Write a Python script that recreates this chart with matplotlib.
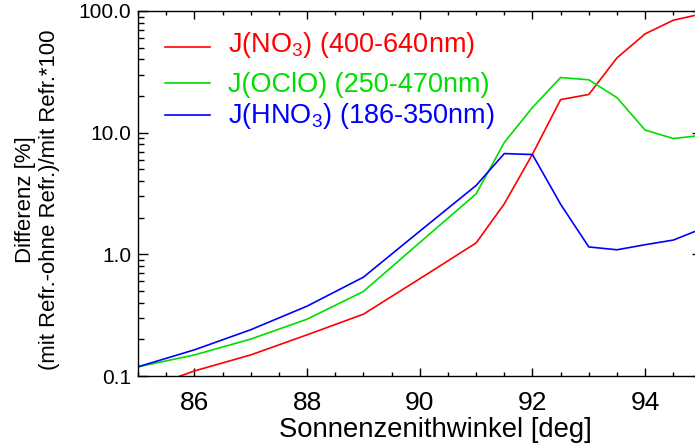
import matplotlib
matplotlib.use("Agg")
import matplotlib.pyplot as plt
from matplotlib.ticker import FixedLocator, MultipleLocator, LogLocator, FixedFormatter, NullFormatter

plt.rcParams["font.family"] = ["Liberation Sans", "DejaVu Sans"]
plt.rcParams["mathtext.default"] = "regular"

# Solar zenith angle [deg]
sza = [85, 86, 87, 88, 89, 90, 91, 91.5, 92, 92.5, 93, 93.5, 94, 94.5, 95]

# Relative difference of photolysis rates with/without refraction [%]
j_no3 = [0.075, 0.110, 0.149, 0.218, 0.322, 0.63, 1.24, 2.60, 6.65,
         18.7, 20.6, 41.2, 64.9, 84.0, 94.6]
j_oclo = [0.119, 0.149, 0.201, 0.293, 0.495, 1.25, 3.14, 8.3, 16.1,
          28.4, 27.2, 19.4, 10.5, 8.95, 9.5]
j_hno3 = [0.119, 0.164, 0.240, 0.375, 0.649, 1.55, 3.68, 6.73, 6.61,
          2.58, 1.15, 1.09, 1.20, 1.31, 1.62]

labels = ["J(NO$_3$) (400-640nm)", "J(OClO) (250-470nm)", "J(HNO$_3$) (186-350nm)"]
colors = ["#FF0000", "#00DD00", "#0000FF"]
series = [j_no3, j_oclo, j_hno3]

x_ticks = [86, 88, 90, 92, 94]
y_ticks = [0.1, 1.0, 10.0, 100.0]
y_ticklabels = ["0.1", "1.0", "10.0", "100.0"]

fig = plt.figure(figsize=(6.95, 4.48), dpi=100)
# plot frame: x 138..701.5 px, y 11..376 px (from top)
ax = fig.add_axes([138 / 695, 72 / 448, 563.5 / 695, 365 / 448])

for vals, col in zip(series, colors):
    ax.plot(sza, vals, color=col, lw=1.2, clip_on=True)

ax.set_yscale("log")
ax.set_xlim(85, 95)
ax.set_ylim(0.1, 100)

ax.xaxis.set_major_locator(FixedLocator(x_ticks))
ax.xaxis.set_minor_locator(MultipleLocator(0.5))
ax.yaxis.set_major_locator(FixedLocator(y_ticks))
ax.yaxis.set_major_formatter(FixedFormatter(y_ticklabels))
ax.yaxis.set_minor_locator(LogLocator(base=10, subs=range(2, 10)))
ax.yaxis.set_minor_formatter(NullFormatter())

ax.tick_params(axis="both", which="both", direction="in", top=True, right=True,
               width=1.0, color="black")
ax.tick_params(axis="x", which="major", length=5.5, labelsize=19, pad=11)
ax.tick_params(axis="x", which="minor", length=3.1)
ax.tick_params(axis="y", which="major", length=7.2, labelsize=15, pad=5)
ax.tick_params(axis="y", which="minor", length=4.1)
for s in ax.spines.values():
    s.set_linewidth(1.0)

ax.set_xlabel("Sonnenzenithwinkel [deg]", fontsize=19.8, va="baseline")
ax.xaxis.set_label_coords(0.527, -0.168)
ax.set_ylabel("Differenz [%]\n(mit Refr.-ohne Refr.)/mit Refr.*100",
              fontsize=15.9, va="center", ha="center", multialignment="center",
              linespacing=1.2)
ax.yaxis.set_label_coords(-0.178, 0.482)

# key: short line sample followed by coloured text
key_line_y = [0.902, 0.802, 0.715]
key_text_y = [0.888, 0.779, 0.694]
for lab, col, ly, ty in zip(labels, colors, key_line_y, key_text_y):
    ax.plot([0.048, 0.128], [ly, ly], color=col, lw=1.2, transform=ax.transAxes)
    ax.text(0.160, ty, lab, color=col, fontsize=19.5, va="baseline", ha="left",
            transform=ax.transAxes)

fig.savefig("out.png", dpi=100)
